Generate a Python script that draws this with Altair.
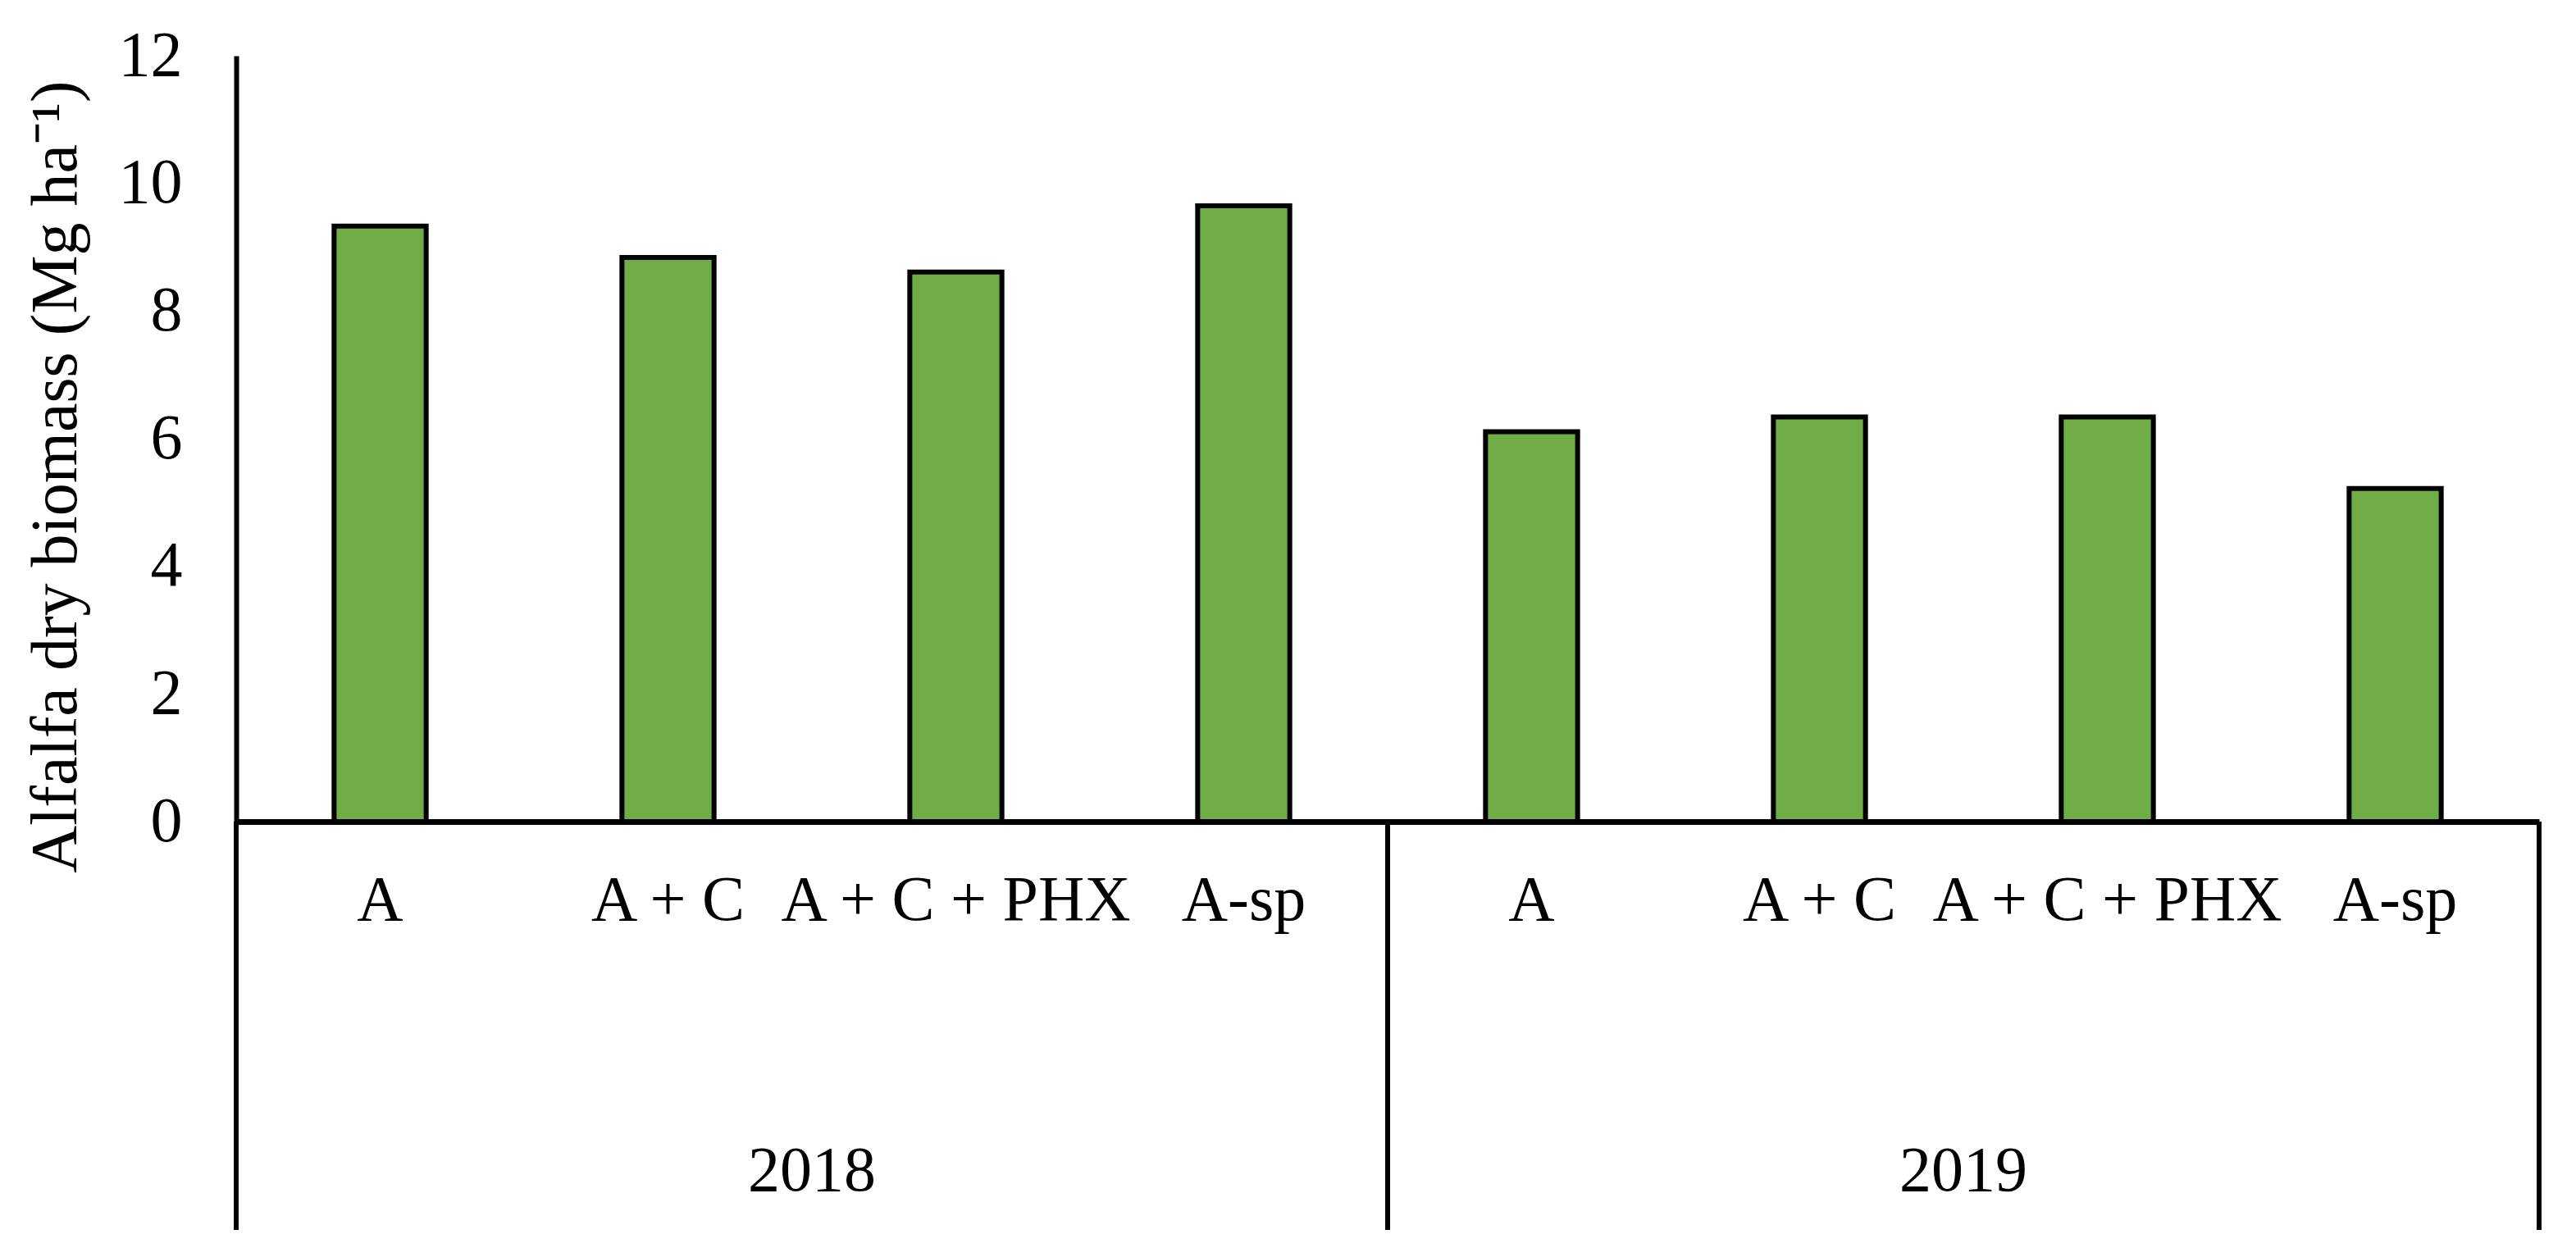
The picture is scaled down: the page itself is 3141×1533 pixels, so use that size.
import altair as alt
import pandas as pd

# ---- data ----
years = ["2018", "2019"]
treatments = ["A", "A + C", "A + C + PHX", "A-sp"]
biomass_2018 = [9.33, 8.84, 8.61, 9.65]
biomass_2019 = [6.11, 6.34, 6.34, 5.22]
y_ticks = [0, 2, 4, 6, 8, 10, 12]
y_title = "Alfalfa dry biomass (Mg ha\u207b\u00b9)"

values_by_year = {"2018": biomass_2018, "2019": biomass_2019}

rows = []
for yr in years:
    for t, v in zip(treatments, values_by_year[yr]):
        rows.append({"year": yr, "treatment": t, "biomass": v, "key": f"{yr}|{t}"})
df = pd.DataFrame(rows)
keys = list(df["key"])
n_total = len(keys)

# group boundaries and centres (in category-index units)
bounds, mids = [0], []
start = 0
for yr in years:
    n = len(values_by_year[yr])
    mids.append({"year": yr, "mid": start + n / 2})
    start += n
    bounds.append(start)
bdf = pd.DataFrame({"pos": bounds})
ydf = pd.DataFrame(mids)

W, H = 2808, 934
FONT = "Liberation Serif"

x_band = alt.X(
    "key:N",
    sort=keys,
    scale=alt.Scale(paddingInner=0.68, paddingOuter=0.34),
    axis=alt.Axis(labels=False, ticks=False, title=None, domainColor="black",
                  domainWidth=7, grid=False),
)

bars = alt.Chart(df).mark_bar(fill="#70AD47", stroke="black", strokeWidth=6).encode(
    x=x_band,
    y=alt.Y(
        "biomass:Q",
        scale=alt.Scale(domain=[0, 12], nice=False),
        axis=alt.Axis(
            values=y_ticks, grid=False, ticks=False,
            domainColor="black", domainWidth=6,
            labelFont=FONT, labelFontSize=78, labelColor="black", labelPadding=66,
            title=y_title, titleFont=FONT, titleFontSize=80, titleFontWeight="normal",
            titleColor="black", titleAngle=270, titleX=-196, titleY=513,
            titleAlign="center", titleBaseline="alphabetic",
        ),
    ),
)

cat_labels = alt.Chart(df).mark_text(
    font=FONT, fontSize=78, color="black", baseline="alphabetic"
).encode(
    x=alt.X("key:N", sort=keys),
    y=alt.value(1054),
    text="treatment:N",
)

xq = alt.Scale(domain=[0, n_total], nice=False, zero=False)

rules = alt.Chart(bdf).mark_rule(stroke="black", strokeWidth=6).encode(
    x=alt.X("pos:Q", scale=xq, axis=None),
    y=alt.value(H),
    y2=alt.value(1432),
)

year_labels = alt.Chart(ydf).mark_text(
    font=FONT, fontSize=78, color="black", baseline="alphabetic"
).encode(
    x=alt.X("mid:Q", scale=xq, axis=None),
    y=alt.value(1384),
    text="year:N",
)

chart = (
    alt.layer(alt.layer(bars, cat_labels), alt.layer(rules, year_labels))
    .resolve_scale(x="independent")
    .properties(
        width=W,
        height=H,
        autosize=alt.AutoSizeParams(type="none"),
        padding={"left": 280, "top": 60, "right": 37, "bottom": 520},
        background="white",
    )
    .configure_view(stroke=None)
)

chart.save("out.html", embed_options={"renderer": "svg", "actions": False})
